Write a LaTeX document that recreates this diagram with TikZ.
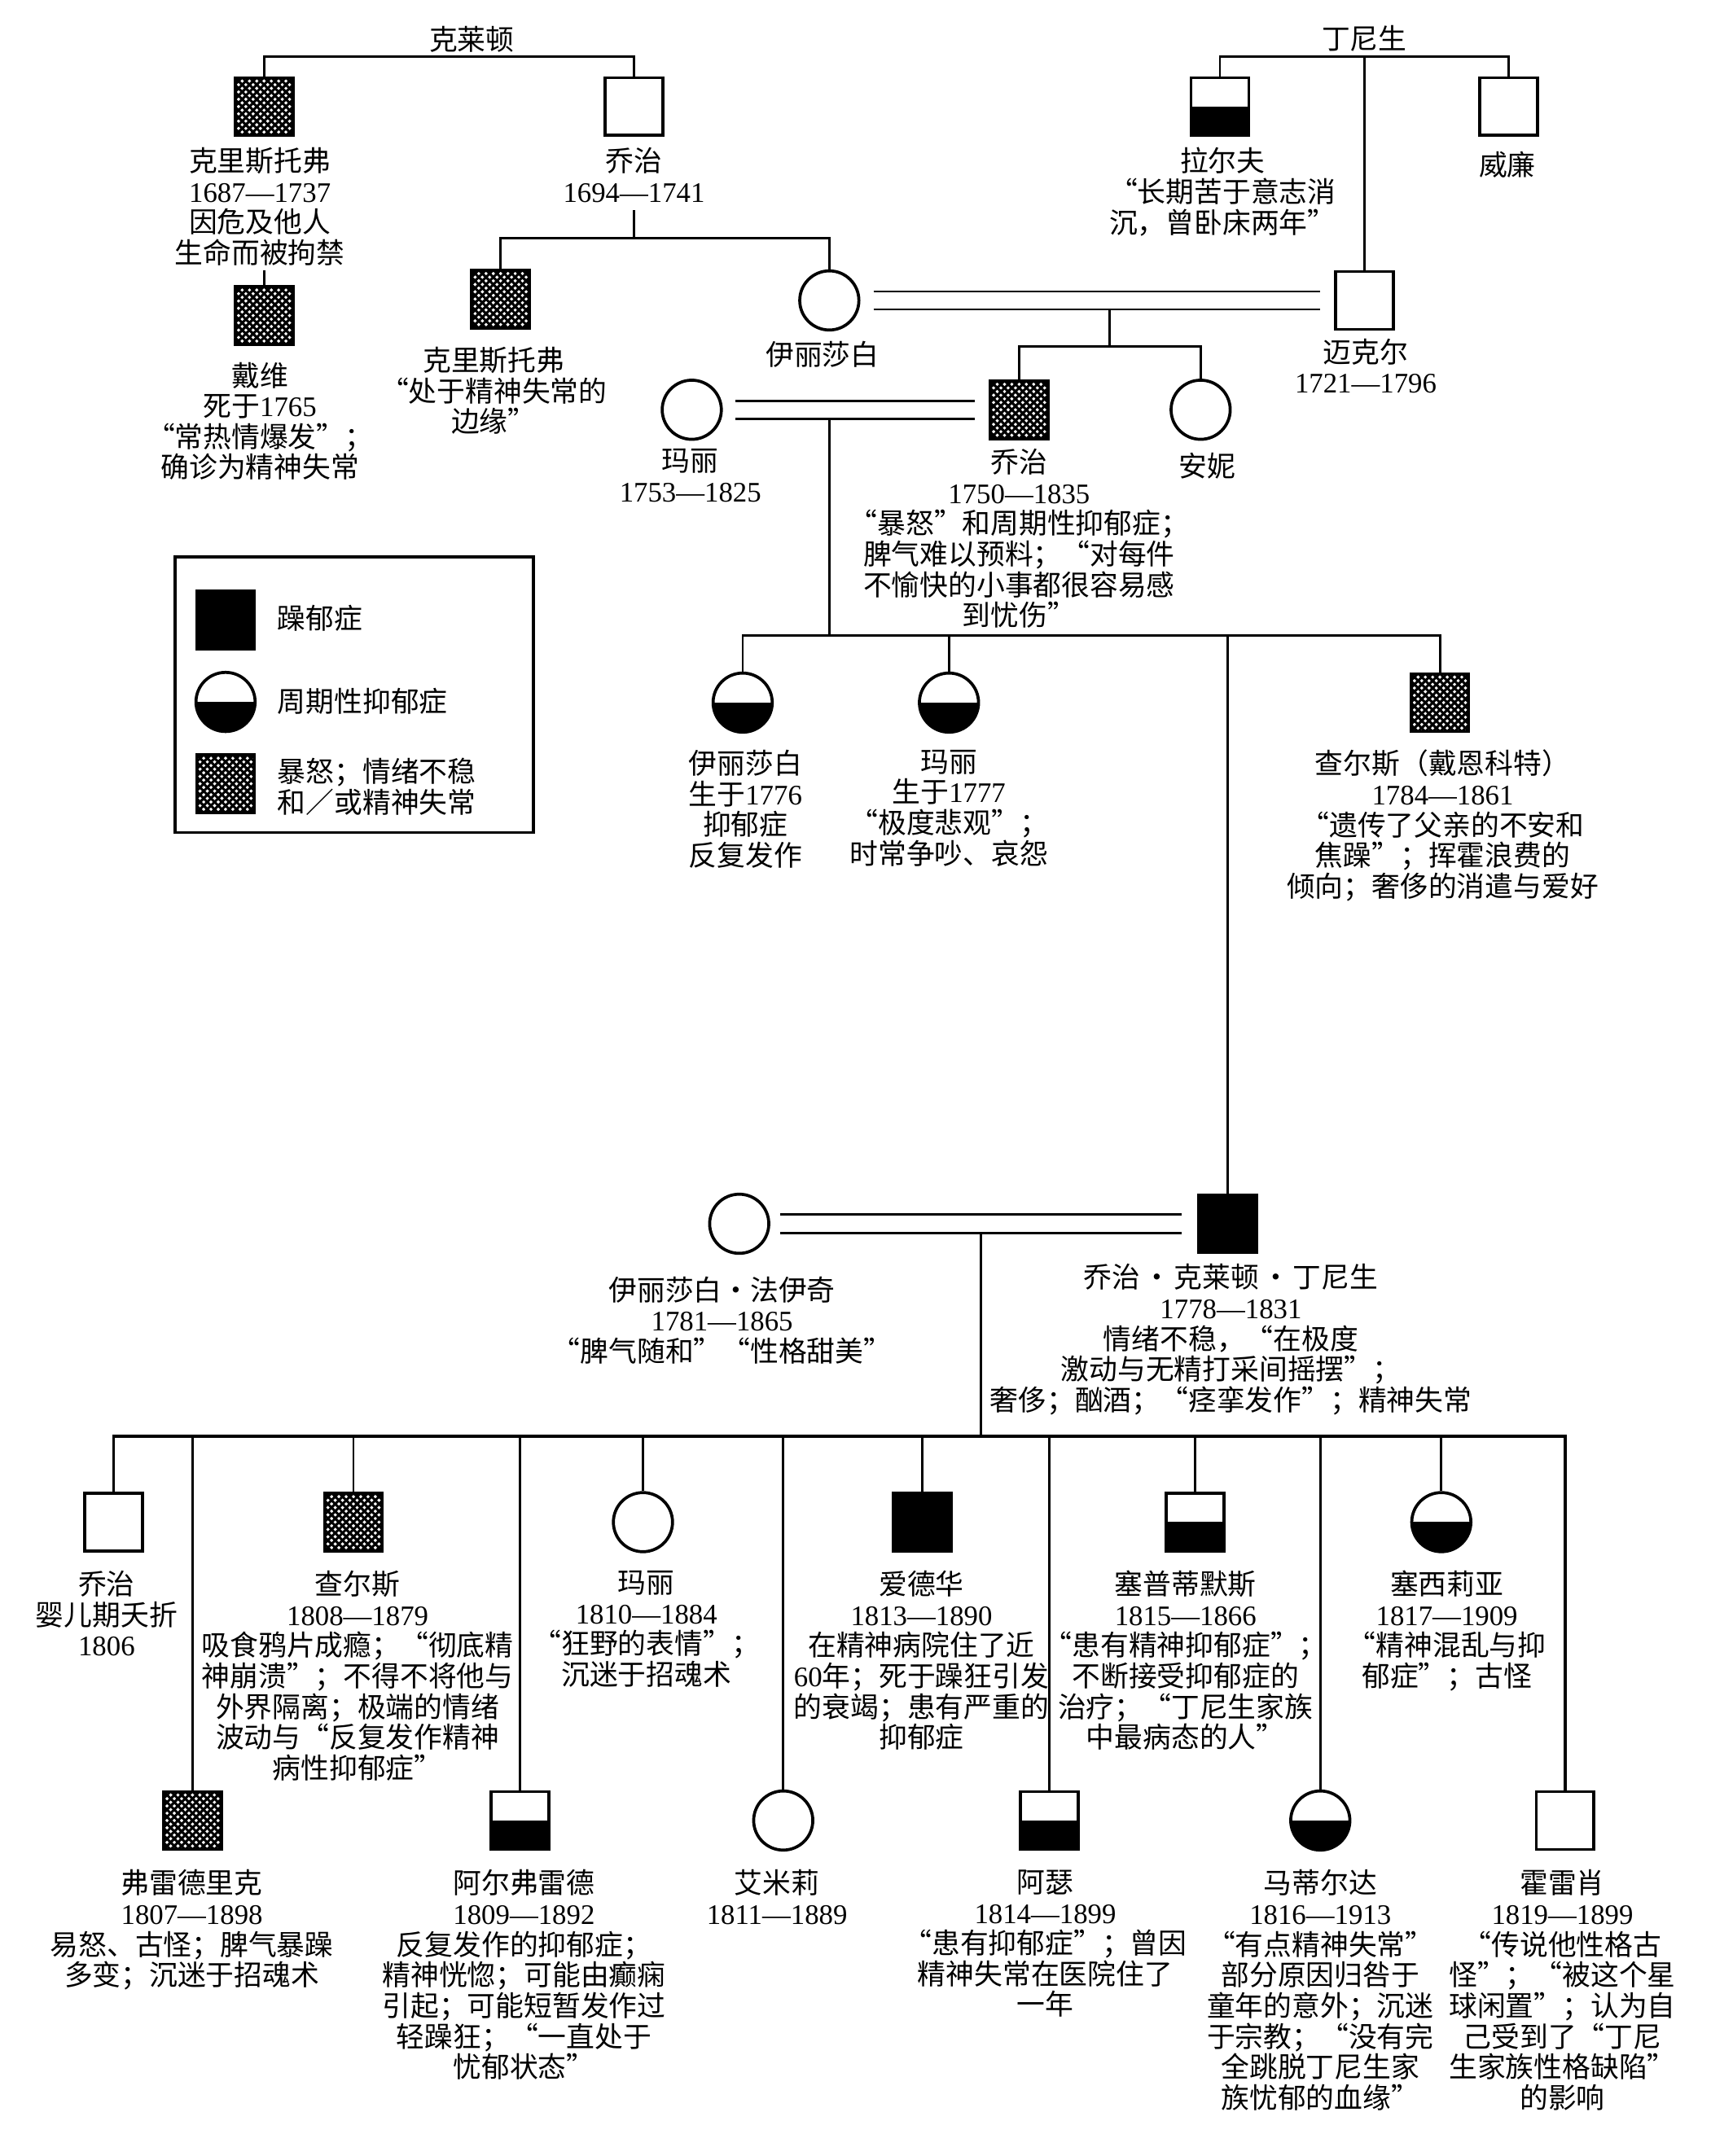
\documentclass[tikz,border=0pt]{standalone}
\usepackage{fontspec}
\setmainfont{Noto Sans CJK SC}
\newfontfamily\latserif{Liberation Serif}
\newcommand\yr[1]{{\latserif #1}}
\usetikzlibrary{calc}
\begin{document}
\begin{tikzpicture}[x=0.5pt,y=-0.5pt,line width=0.85pt,
  sq/.style={draw,rectangle,line width=1.1pt,minimum size=21pt,inner sep=0pt},
  ci/.style={draw,circle,line width=1.1pt,minimum size=21.5pt,inner sep=0pt},
  fullsym/.style={fill=black},
  halfsym/.style={path picture={\fill[black] (path picture bounding box.west) rectangle (path picture bounding box.south east);}},
  hatchsym/.style={path picture={
    \foreach \k in {-9,...,9}{
      \draw[line width=0.9pt] ([shift={(\k*5.3-40,-40)}]path picture bounding box.center) -- ++(80,80);
      \draw[line width=0.9pt] ([shift={(\k*5.3+40,-40)}]path picture bounding box.center) -- ++(-80,80);
    }}},
  labtext/.style={align=center,inner sep=0pt,anchor=north,yshift=4.75pt,font=\fontsize{10.3}{11.15}\selectfont},
  legtext/.style={labtext,anchor=north west,align=left},
  sibline/.style={line width=1pt}
]
\fill[white] (0,0) rectangle (1244,1568);
\useasboundingbox (0,0) rectangle (1244,1568);

% ---------- symbols ----------
\node[sq,hatchsym] (kls) at (192,77.5) {};
\node[sq] (ge1) at (461,77.5) {};
\node[sq,halfsym] (ral) at (887,77.5) {};
\node[sq] (wil) at (1097,77.5) {};
\node[sq,hatchsym] (dav) at (192,229.5) {};
\node[sq,hatchsym] (kls2) at (364,217.5) {};
\node[ci] (eli1) at (603,218.5) {};
\node[sq] (mic) at (992,218.5) {};
\node[ci] (mar1) at (503,298) {};
\node[sq,hatchsym] (ge2) at (741,298) {};
\node[ci] (ann) at (873,298) {};
\node[ci,halfsym] (eli2) at (540,511) {};
\node[ci,halfsym] (mar2) at (690,511) {};
\node[sq,hatchsym] (cha1) at (1047,511) {};
\node[ci] (eli3) at (537.5,890) {};
\node[sq,fullsym] (gct) at (892.5,890) {};
% children row 1
\node[sq] (c1) at (82.5,1107) {};
\node[sq,hatchsym] (c3) at (257,1107) {};
\node[ci] (c5) at (467.5,1107) {};
\node[sq,fullsym] (c7) at (670.5,1107) {};
\node[sq,halfsym] (c9) at (869,1107) {};
\node[ci,halfsym] (c11) at (1048,1107) {};
% children row 2
\node[sq,hatchsym] (c2) at (140,1324) {};
\node[sq,halfsym] (c4) at (378,1324) {};
\node[ci] (c6) at (569.5,1324) {};
\node[sq,halfsym] (c8) at (763,1324) {};
\node[ci,halfsym] (c10) at (960,1324) {};
\node[sq] (c12) at (1138,1324) {};

% ---------- connectors ----------
\draw (kls.north) -- ++(0,-14) -| (ge1.north);
\draw (ral.north) -- ++(0,-14) -| (wil.north);
\coordinate (tj) at (992,42);
\draw (tj) -- (mic.north);
\coordinate (kd) at (192,196.5);
\draw (kd) -- (dav.north);
\coordinate (g1d) at (461,153);
\coordinate (g1s) at (461,173);
\draw (g1d) -- (g1s);
\draw (kls2.north) |- (g1s) -| (eli1.north);
% marriage 1
\draw ($(eli1.east)+(9.5,-6.5)$) -- ($(mic.west)+(-10,-6.5)$);
\draw ($(eli1.east)+(9.5,6.5)$) -- ($(mic.west)+(-10,6.5)$);
\coordinate (m1) at (807,225);
\coordinate (m1s) at (807,252);
\draw (m1) -- (m1s);
\draw (ge2.north) |- (m1s) -| (ann.north);
% marriage 2
\draw ($(mar1.east)+(9,-6.5)$) -- ($(ge2.west)+(-10,-6.5)$);
\draw ($(mar1.east)+(9,6.5)$) -- ($(ge2.west)+(-10,6.5)$);
\coordinate (m2) at (603,304.5);
\coordinate (m2s) at (603,462);
\draw (m2) -- (m2s);
\draw (eli2.north) |- (m2s) -| (cha1.north);
\draw (mar2.north) -- (mar2.north |- m2s);
\draw (gct.north) -- (gct.north |- m2s);
% marriage 3
\draw ($(eli3.east)+(7,-7)$) -- ($(gct.west)+(-11,-7)$);
\draw ($(eli3.east)+(7,7)$) -- ($(gct.west)+(-11,7)$);
\coordinate (m3) at (713,897);
\coordinate (m3s) at (713,1044.5);
\draw (m3) -- (m3s);
\draw[sibline] (c1.north) |- (m3s) -| (c12.north);
\foreach \c in {c2,c3,c4,c5,c6,c7,c8,c9,c10,c11}{
  \draw (\c.north) -- (\c.north |- m3s);
}

% ---------- labels ----------
\node[labtext] (tcl) at (343,28) {克莱顿};
\node[labtext] (tdn) at (992,27) {丁尼生};
\node[labtext] (tkls) at (189,116) {克里斯托弗\\\yr{1687—1737}\\因危及他人\\生命而被拘禁};
\node[labtext] (tge1) at (461,116) {乔治\\\yr{1694—1741}};
\node[labtext] (tral) at (889,116) {拉尔夫\\“长期苦于意志消\\沉，曾卧床两年”};
\node[labtext] (twil) at (1096,119) {威廉};
\node[labtext] (tdav) at (189,272) {戴维\\死于\yr{1765}\\“常热情爆发”；\\确诊为精神失常};
\node[labtext] (tkls2) at (359,261) {克里斯托弗\\“处于精神失常的\\边缘”};
\node[labtext] (teli1) at (598,257) {伊丽莎白};
\node[labtext] (tmic) at (993,255) {迈克尔\\\yr{1721—1796}};
\node[labtext] (tmar1) at (502,335) {玛丽\\\yr{1753—1825}};
\node[labtext] (tge2) at (741,335) {乔治\\\yr{1750—1835}\\“暴怒”和周期性抑郁症；\\脾气难以预料；“对每件\\不愉快的小事都很容易感\\到忧伤”};
\node[labtext] (tann) at (878,338) {安妮};
\node[labtext] (teli2) at (542,554) {伊丽莎白\\生于\yr{1776}\\抑郁症\\反复发作};
\node[labtext] (tmar2) at (690,554) {玛丽\\生于\yr{1777}\\“极度悲观”；\\时常争吵、哀怨};
\node[labtext] (tcha1) at (1049,554) {查尔斯（戴恩科特）\\\yr{1784—1861}\\“遗传了父亲的不安和\\焦躁”；挥霍浪费的\\倾向；奢侈的消遣与爱好};
\node[labtext] (teli3) at (525,937) {伊丽莎白\makebox[1em]{·}法伊奇\\\yr{1781—1865}\\“脾气随和”“性格甜美”};
\node[labtext] (tgct) at (895,928) {乔治\makebox[1.2em]{·}克莱顿\makebox[1.2em]{·}丁尼生\\\yr{1778—1831}\\情绪不稳，“在极度\\激动与无精打采间摇摆”；\\奢侈；酗酒；“痉挛发作”；精神失常};
% row 1
\node[labtext] (tc1) at (77.5,1151) {乔治\\婴儿期夭折\\\yr{1806}};
\node[labtext] (tc3) at (260,1151) {查尔斯\\\yr{1808—1879}\\吸食鸦片成瘾；“彻底精\\神崩溃”；不得不将他与\\外界隔离；极端的情绪\\波动与“反复发作精神\\病性抑郁症”};
\node[labtext] (tc5) at (470,1151) {玛丽\\\yr{1810—1884}\\“狂野的表情”；\\沉迷于招魂术};
\node[labtext] (tc7) at (670,1151) {爱德华\\\yr{1813—1890}\\在精神病院住了近\\\yr{60}年；死于躁狂引发\\的衰竭；患有严重的\\抑郁症};
\node[labtext] (tc9) at (862,1151) {塞普蒂默斯\\\yr{1815—1866}\\“患有精神抑郁症”；\\不断接受抑郁症的\\治疗；“丁尼生家族\\中最病态的人”};
\node[labtext] (tc11) at (1052,1151) {塞西莉亚\\\yr{1817—1909}\\“精神混乱与抑\\郁症”；古怪};
% row 2
\node[labtext] (tc2) at (139.5,1368.5) {弗雷德里克\\\yr{1807—1898}\\易怒、古怪；脾气暴躁\\多变；沉迷于招魂术};
\node[labtext] (tc4) at (381,1368.5) {阿尔弗雷德\\\yr{1809—1892}\\反复发作的抑郁症；\\精神恍惚；可能由癫痫\\引起；可能短暂发作过\\轻躁狂；“一直处于\\忧郁状态”};
\node[labtext] (tc6) at (565,1368.5) {艾米莉\\\yr{1811—1889}};
\node[labtext] (tc8) at (760,1368.5) {阿瑟\\\yr{1814—1899}\\“患有抑郁症”；曾因\\精神失常在医院住了\\一年};
\node[labtext] (tc10) at (960,1368.5) {马蒂尔达\\\yr{1816—1913}\\“有点精神失常”\\部分原因归咎于\\童年的意外；沉迷\\于宗教；“没有完\\全跳脱丁尼生家\\族忧郁的血缘”};
\node[labtext] (tc12) at (1136,1368.5) {霍雷肖\\\yr{1819—1899}\\“传说他性格古\\怪”；“被这个星\\球闲置”；认为自\\己受到了“丁尼\\生家族性格缺陷”\\的影响};

% ---------- legend ----------
\node[draw,line width=1.1pt,minimum width=130.4pt,minimum height=100.2pt,inner sep=0pt] (legend) at (257.5,505.3) {};
\node[sq,fullsym] (lg1) at (164,451) {};
\node[ci,halfsym] (lg2) at (164,510.5) {};
\node[sq,hatchsym] (lg3) at (164,570) {};
\node[legtext] (lt1) at (201,449) {躁郁症};
\node[legtext] (lt2) at (201,509) {周期性抑郁症};
\node[legtext] (lt3) at (201,560) {暴怒；情绪不稳\\和／或精神失常};
\end{tikzpicture}
\end{document}
